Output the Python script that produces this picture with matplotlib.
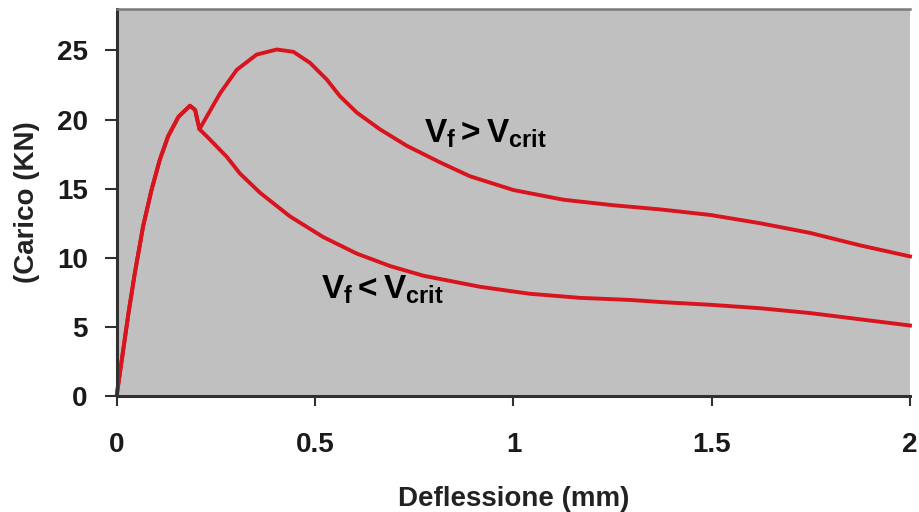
import matplotlib
matplotlib.use("Agg")
import matplotlib.pyplot as plt

plt.rcParams['font.family'] = ['Liberation Sans', 'DejaVu Sans']
plt.rcParams['font.weight'] = 'bold'
plt.rcParams['mathtext.fontset'] = 'custom'
plt.rcParams['mathtext.it'] = 'Liberation Sans:bold'
plt.rcParams['mathtext.rm'] = 'Liberation Sans:bold'

# tratto comune (fino al primo picco e al calo)
rise_x = [0, 0.012, 0.029, 0.045, 0.066, 0.087, 0.108, 0.129, 0.155, 0.184, 0.197, 0.208]
rise_y = [0.2, 2.6, 6.0, 8.9, 12.3, 14.9, 17.1, 18.8, 20.2, 21.0, 20.7, 19.3]

# curva con Vf > Vcrit
upper_x = rise_x + [0.226, 0.26, 0.302, 0.352, 0.403, 0.445, 0.487, 0.529, 0.562,
                    0.605, 0.663, 0.731, 0.815, 0.89, 1.0, 1.126, 1.252, 1.37,
                    1.496, 1.622, 1.748, 1.874, 2.0]
upper_y = rise_y + [20.2, 21.9, 23.6, 24.7, 25.07, 24.9, 24.1, 22.9, 21.7,
                    20.5, 19.3, 18.1, 16.9, 15.9, 14.9, 14.2, 13.8, 13.5,
                    13.1, 12.5, 11.8, 10.9, 10.1]

# curva con Vf < Vcrit
lower_x = rise_x + [0.226, 0.277, 0.31, 0.361, 0.436, 0.52, 0.605, 0.689, 0.773,
                    0.916, 1.04, 1.168, 1.294, 1.37, 1.496, 1.622, 1.748, 1.874, 2.0]
lower_y = rise_y + [18.8, 17.3, 16.1, 14.7, 13.0, 11.5, 10.3, 9.4, 8.7,
                    7.9, 7.4, 7.1, 6.95, 6.8, 6.6, 6.35, 6.0, 5.55, 5.1]

x_ticks = [0, 0.5, 1, 1.5, 2]
x_labels = ['0', '0.5', '1', '1.5', '2']
y_ticks = [0, 5, 10, 15, 20, 25]

red = '#D8141E'

fig = plt.figure(figsize=(9.2, 5.12), dpi=100)
ax = fig.add_axes([117 / 920, 1 - 396 / 512, 793 / 920, 387 / 512])
ax.set_facecolor('#C0C0C0')

ax.plot(upper_x, upper_y, color=red, lw=2.8, solid_joinstyle='round', clip_on=False)
ax.plot(lower_x, lower_y, color=red, lw=2.8, solid_joinstyle='round', clip_on=False)

ax.text(0.93, 19.0, r'$V_f > V_{crit}$', fontsize=24, ha='center', va='center')
ax.text(0.67, 7.7, r'$V_f < V_{crit}$', fontsize=24, ha='center', va='center')

ax.set_xlim(0, 2)
ax.set_ylim(0, 28)
ax.set_xticks(x_ticks)
ax.set_xticklabels(x_labels)
ax.set_yticks(y_ticks)

ax.spines['right'].set_visible(False)
ax.spines['top'].set_color('#7a7a7a')
ax.spines['top'].set_linewidth(1.8)
for s in ['left', 'bottom']:
    ax.spines[s].set_color('#303030')
    ax.spines[s].set_linewidth(2.2)

ax.tick_params(axis='x', direction='out', length=7, width=1.5, color='#303030',
               labelsize=20, pad=19)
ax.tick_params(axis='y', direction='out', length=9, width=1.5, color='#303030',
               labelsize=20, pad=12)

ax.set_xlabel('Deflessione (mm)', fontsize=20, fontweight='bold', labelpad=20, color='#222222')
ax.set_ylabel('(Carico (KN)', fontsize=20, fontweight='bold', labelpad=12, color='#222222')
for lab in ax.get_xticklabels() + ax.get_yticklabels():
    lab.set_color('#1a1a1a')

fig.savefig('out.png', dpi=100, facecolor='white')
